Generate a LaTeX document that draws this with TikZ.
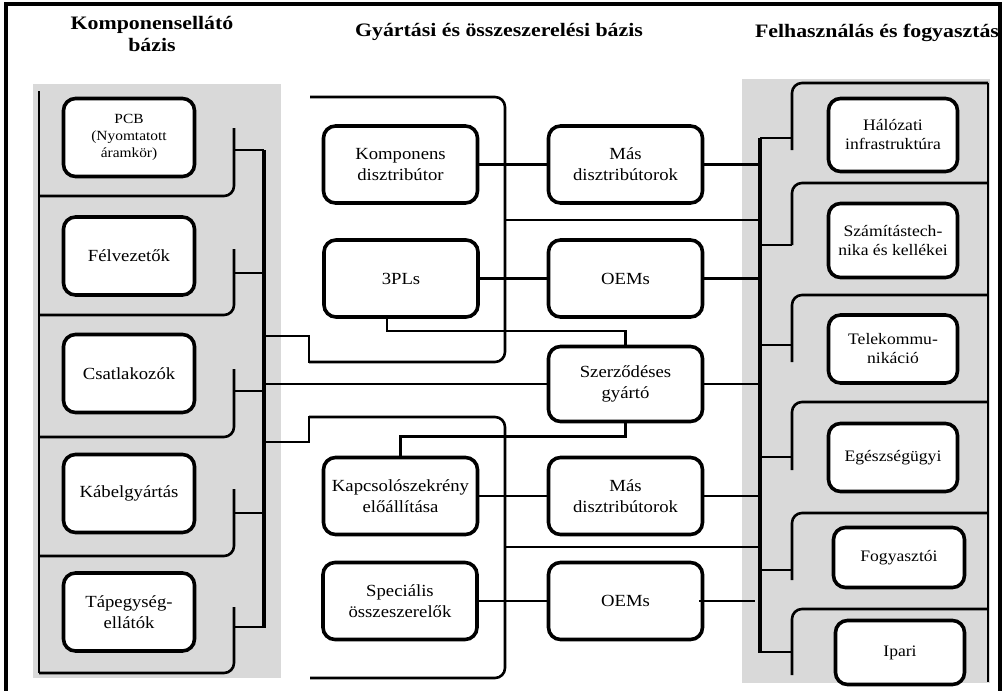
\documentclass[tikz,border=0pt]{standalone}
\usepackage{fontspec}
\setmainfont{Liberation Serif}[FakeStretch=1.1]
\newfontfamily\titlefont{Liberation Serif}[FakeStretch=1.15]
\begin{document}
\begin{tikzpicture}[x=1pt,y=-1pt,
  box/.style={draw, line width=3.6pt, rounded corners=12pt, fill=white, align=center, inner sep=1pt,
    font=\fontsize{17}{21}\selectfont},
  lbox/.style={box, minimum width=131pt, minimum height=78pt},
  mbox/.style={box, minimum width=154pt, minimum height=77pt},
  rbox/.style={box, minimum width=129pt, font=\fontsize{16}{19}\selectfont},
  wire/.style={line width=2.6pt},
  bus/.style={line width=3.2pt},
  panel/.style={fill=gray!30},
  ttl/.style={align=center, font=\titlefont\bfseries\fontsize{19}{22}\selectfont}]
\useasboundingbox (0,0) rectangle (1005,691);
% frame
\draw[line width=3.2pt] (6,700) -- (6,4) -- (1000,4) -- (1000,700);
% panels
\fill[panel] (33,84) rectangle (281,678);
\fill[panel] (742,79) rectangle (990,683);
% titles
\node[ttl] (t1) at (152,34) {Komponensellátó\\bázis};
\node[ttl] (t2) at (499,32) {Gyártási és összeszerelési bázis};
\node[ttl] (t3) at (877,33) {Felhasználás és fogyasztás};
% coordinates of buses
\coordinate (lbus) at (264,0);
\coordinate (rbus) at (760,0);
% left brackets
\draw[wire] (39,91) -- (39,673);
\foreach \yb/\yt in {196/128, 315/249, 437/369, 556/489, 673/607}
  \draw[wire, rounded corners=10pt] (39,\yb) -- (234,\yb) -- (234,\yt);
\foreach \y in {150,273,391,513,627}
  \draw[wire] (234,\y) -- (264,\y);
\draw[bus] (264,150) -- (264,628);
% middle brackets
\draw[wire, rounded corners=10pt] (310,97) -- (505,97) -- (505,362) -- (309,362);
\draw[wire] (309,363) -- (309,336) -- (264,336);
\draw[wire] (264,442) -- (309,442) -- (309,416);
\draw[wire, rounded corners=10pt] (309,417) -- (505,417) -- (505,678) -- (310,678);
\draw[wire] (505,220) -- (760,220);
\draw[wire] (505,547) -- (760,547);
% right brackets
\draw[wire] (988,83) -- (988,682);
\foreach \yt/\yb in {83/150,183/245,295/362,402/470,513/580,609/675}
  \draw[wire, rounded corners=10pt] (988,\yt) -- (792,\yt) -- (792,\yb);
\foreach \y in {138,245,345,457,570,652}
  \draw[wire] (760,\y) -- (792,\y);
\draw[bus] (760,138) -- (760,653);
% left boxes
\node[lbox, font=\fontsize{14}{17}\selectfont] (pcb) at (129,137.5) {PCB\\(Nyomtatott\\áramkör)};
\node[lbox] (felv) at (129,256) {Félvezetők};
\node[lbox] (csat) at (129,373.5) {Csatlakozók};
\node[lbox] (kabel) at (129,493.5) {Kábelgyártás};
\node[lbox] (tap) at (129,612) {Tápegység-\\ellátók};
% middle boxes
\node[mbox] (komp) at (400.5,164.5) {Komponens\\disztribútor};
\node[mbox] (tpl) at (401,278.5) {3PLs};
\node[mbox] (kapcs) at (400.5,496) {Kapcsolószekrény\\előállítása};
\node[mbox] (spec) at (400,601) {Speciális\\összeszerelők};
\node[mbox] (mas1) at (625.5,164.5) {Más\\disztribútorok};
\node[mbox] (oem1) at (625.5,278.5) {OEMs};
\node[mbox, minimum height=75pt] (szerz) at (625.5,384) {Szerződéses\\gyártó};
\node[mbox] (mas2) at (625.5,496) {Más\\disztribútorok};
\node[mbox] (oem2) at (625.5,601) {OEMs};
% right boxes
\node[rbox, minimum height=73pt] (hal) at (893,135) {Hálózati\\infrastruktúra};
\node[rbox, minimum height=74pt] (szam) at (893,240.5) {Számítástech-\\nika és kellékei};
\node[rbox, minimum height=68pt] (tele) at (893,349) {Telekommu-\\nikáció};
\node[rbox, minimum height=68pt] (egesz) at (893,457.5) {Egészségügyi};
\node[rbox, minimum width=131pt, minimum height=60pt] (fogy) at (899,557.5) {Fogyasztói};
\node[rbox, minimum width=129pt, minimum height=64pt] (ipari) at (900,652.5) {Ipari};
% middle connectors
\draw[wire] (komp.east) -- (mas1.west);
\draw[wire] (tpl.east) -- (oem1.west);
\draw[wire] (kapcs.east) -- (mas2.west);
\draw[wire] (spec.east) -- (oem2.west);
\draw[wire] (lbus |- szerz.west) -- (szerz.west);
\draw[wire] ([xshift=-14pt]tpl.south) -- ++(0,12) -| (szerz.north);
\draw[wire] (szerz.south) -- ++(0,13) -| (kapcs.north);
% to right bus
\draw[wire] (mas1.east) -- (rbus |- mas1.east);
\draw[wire] (oem1.east) -- (rbus |- oem1.east);
\draw[wire] (szerz.east) -- (rbus |- szerz.east);
\draw[wire] (mas2.east) -- (rbus |- mas2.east);
\draw[wire] ([xshift=-5pt]oem2.east) -- ([xshift=-5pt]rbus |- oem2.east);
\end{tikzpicture}
\end{document}
